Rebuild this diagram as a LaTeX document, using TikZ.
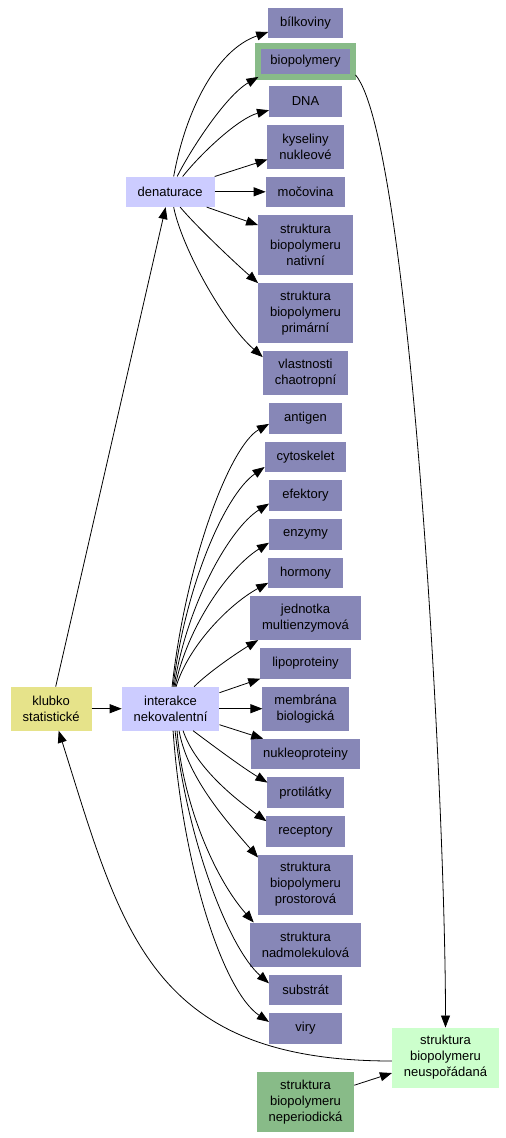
\documentclass[tikz,border=0pt]{standalone}
\usepackage{fontspec}
\setmainfont{Liberation Sans}
\usepackage{xcolor}
\usepackage{tikz}
\usetikzlibrary{shapes.geometric, arrows, arrows.meta, positioning, calc}

\definecolor{fialova}{HTML}{8787B7}
\definecolor{levandule}{HTML}{CCCCFF}
\definecolor{zluta}{HTML}{E6E38A}
\definecolor{zelena}{HTML}{88BB88}
\definecolor{svetlezelena}{HTML}{CCFFCC}

\begin{document}
\begin{tikzpicture}[x=1pt, y=-1pt, node distance=8pt,
  uzel/.style={rectangle, text centered, align=center, minimum width=73pt, minimum height=30.6pt,
    inner xsep=12pt, inner ysep=3pt, outer sep=0pt, font=\fontsize{13pt}{16pt}\selectfont},
  list/.style={uzel, fill=fialova},
  pojem/.style={uzel, fill=levandule},
  dva/.style={minimum height=44pt},
  tri/.style={minimum height=60pt},
  sipka/.style={-{Triangle[length=12pt, width=9pt]}, line width=0.8pt}]
\useasboundingbox (0,0) rectangle (506,1138);

% sloupec vpravo
\node (bilkoviny)[list] at (305.5,23) {bílkoviny};
\node (biopolymery)[list, draw=zelena, line width=6pt, outer sep=3pt, below=5pt of bilkoviny] {biopolymery};
\node (DNA)[list, below=6pt of biopolymery] {DNA};
\node (kyseliny)[list, dva, below=of DNA] {kyseliny\\nukleové};
\node (mocovina)[list, below=of kyseliny] {močovina};
\node (nativni)[list, tri, below=of mocovina] {struktura\\biopolymeru\\nativní};
\node (primarni)[list, tri, below=of nativni] {struktura\\biopolymeru\\primární};
\node (vlastnosti)[list, dva, below=of primarni] {vlastnosti\\chaotropní};
\node (antigen)[list, below=of vlastnosti] {antigen};
\node (cytoskelet)[list, below=of antigen] {cytoskelet};
\node (efektory)[list, below=of cytoskelet] {efektory};
\node (enzymy)[list, below=of efektory] {enzymy};
\node (hormony)[list, below=of enzymy] {hormony};
\node (jednotka)[list, dva, below=of hormony] {jednotka\\multienzymová};
\node (lipoproteiny)[list, below=of jednotka] {lipoproteiny};
\node (membrana)[list, dva, below=of lipoproteiny] {membrána\\biologická};
\node (nukleoproteiny)[list, below=of membrana] {nukleoproteiny};
\node (protilatky)[list, below=of nukleoproteiny] {protilátky};
\node (receptory)[list, below=of protilatky] {receptory};
\node (prostorova)[list, tri, below=of receptory] {struktura\\biopolymeru\\prostorová};
\node (nadmolekulova)[list, dva, below=of prostorova] {struktura\\nadmolekulová};
\node (substrat)[list, below=of nadmolekulova] {substrát};
\node (viry)[list, below=of substrat] {viry};
\node (neperiodicka)[uzel, tri, fill=zelena, below=28pt of viry] {struktura\\biopolymeru\\neperiodická};

% vlevo
\node (denaturace)[pojem, left=51pt of mocovina] {denaturace};
\node (interakce)[pojem, dva, left=43pt of membrana] {interakce\\nekovalentní};
\node (klubko)[uzel, dva, fill=zluta, left=30pt of interakce] {klubko\\statistické};
\node (neusporadana)[uzel, tri, fill=svetlezelena] at (445.5,1057.5) {struktura\\biopolymeru\\neuspořádaná};

% denaturace
\draw[sipka] ([xshift=3.5pt]denaturace.north) .. controls +(12,-66) and +(-52,18) .. ([yshift=-9pt]bilkoviny.west);
\draw[sipka] ([xshift=7pt]denaturace.north) .. controls +(13,-26) and +(-33,19) .. ([shift={(3pt,3pt)}]biopolymery.south west);
\draw[sipka] ([xshift=12.5pt]denaturace.north) .. controls +(20,-25) and +(-30,8) .. ([yshift=-9pt]DNA.west);
\draw[sipka] (denaturace.north east) -- ([yshift=-13pt]kyseliny.west);
\draw[sipka] (denaturace) -- (mocovina);
\draw[sipka] ([xshift=-8pt]denaturace.south east) -- ([yshift=-10pt]nativni.north west);
\draw[sipka] ([xshift=10pt]denaturace.south) .. controls +(15,18) and +(-25,-22) .. (primarni.north west);
\draw[sipka] ([xshift=3.5pt]denaturace.south) .. controls +(8,40) and +(-40,-35) .. ([yshift=-6pt]vlastnosti.north west);

% klubko
\draw[sipka] ([xshift=4.5pt]klubko.north) -- ([xshift=-4.5pt]denaturace.south);
\draw[sipka] (klubko) -- (interakce);

% interakce
\draw[sipka] ([xshift=1.5pt]interakce.north) .. controls +(14,-126) and +(-39,22) .. ([yshift=-5.5pt]antigen.west);
\draw[sipka] ([xshift=2.5pt]interakce.north) .. controls +(12,-100) and +(-40,28) .. ([yshift=-10pt]cytoskelet.west);
\draw[sipka] ([xshift=3.5pt]interakce.north) .. controls +(12,-80) and +(-40,25) .. ([yshift=-8pt]efektory.west);
\draw[sipka] ([xshift=4.5pt]interakce.north) .. controls +(12,-60) and +(-40,25) .. ([yshift=-8.5pt]enzymy.west);
\draw[sipka] ([xshift=5.5pt]interakce.north) .. controls +(12,-40) and +(-40,22) .. ([yshift=-10pt]hormony.west);
\draw[sipka] ([xshift=23.5pt]interakce.north) .. controls +(15,-15) and +(-20,12) .. ([xshift=8pt]jednotka.south west);
\draw[sipka] ([yshift=-6pt]interakce.north east) -- (lipoproteiny.south west);
\draw[sipka] (interakce) -- (membrana);
\draw[sipka] ([yshift=6pt]interakce.south east) -- ([xshift=12pt]nukleoproteiny.north west);
\draw[sipka] ([xshift=22.5pt]interakce.south) .. controls +(20,15) and +(-25,-15) .. ([yshift=10pt]protilatky.west);
\draw[sipka] ([xshift=12.5pt]interakce.south) .. controls +(12,35) and +(-35,-25) .. ([yshift=10pt]receptory.west);
\draw[sipka] ([xshift=8.5pt]interakce.south) .. controls +(8,45) and +(-35,-40) .. ([yshift=-3pt]prostorova.north west);
\draw[sipka] ([xshift=6.5pt]interakce.south) .. controls +(5,70) and +(-40,-45) .. ([xshift=4pt]nadmolekulova.north west);
\draw[sipka] ([xshift=4.5pt]interakce.south) .. controls +(12,110) and +(-40,-35) .. ([yshift=6.5pt]substrat.west);
\draw[sipka] ([xshift=2.5pt]interakce.south) .. controls +(10,140) and +(-45,-30) .. ([yshift=6.5pt]viry.west);

% neuspořádaná
\draw[sipka] ([yshift=5pt]biopolymery.south east) .. controls +(55,66) and +(0,-228) .. (neusporadana.north);
\draw[sipka] ([yshift=-3.5pt]neusporadana.west) .. controls +(-242,0) and +(63,200) .. ([xshift=7.5pt]klubko.south);
\draw[sipka] ([yshift=16.5pt]neperiodicka.east) -- ([yshift=-15.5pt]neusporadana.west);

\end{tikzpicture}
\end{document}
